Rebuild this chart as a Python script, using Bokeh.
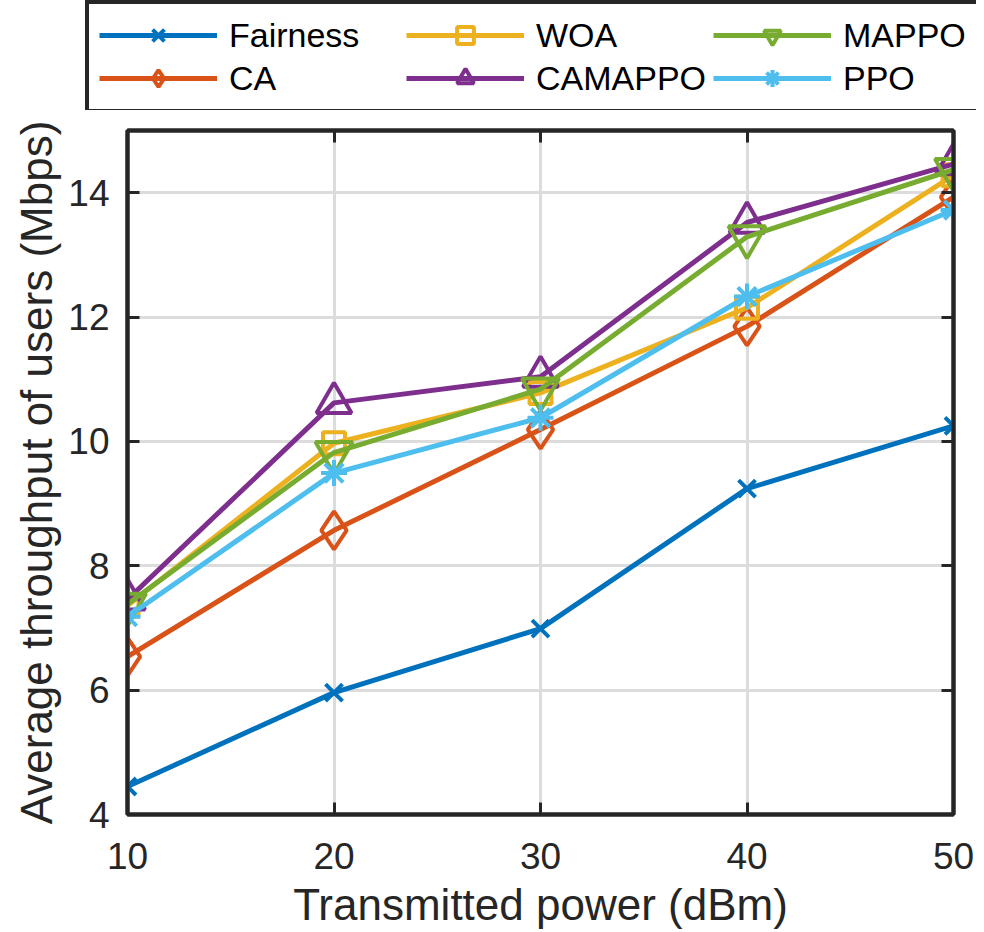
from bokeh.plotting import figure
from bokeh.models import Legend, LinearAxis, FixedTicker, Range1d
from bokeh.layouts import column
from bokeh.embed import file_html
from bokeh.resources import INLINE

power = [10, 20, 30, 40, 50]
fairness = [4.45, 5.96, 6.99, 9.24, 10.25]
ca = [6.54, 8.57, 10.19, 11.85, 13.93]
woa = [7.36, 9.97, 10.78, 12.15, 14.28]
camappo = [7.46, 10.62, 11.04, 13.52, 14.46]
mappo = [7.38, 9.82, 10.84, 13.29, 14.37]
ppo = [7.18, 9.49, 10.38, 12.33, 13.72]

x_ticks = [10, 20, 30, 40, 50]
y_ticks = [4, 6, 8, 10, 12, 14]

series = [
    ("Fairness", fairness, "#0072BD", "x", 24),
    ("CA", ca, "#D95319", "diamond", 38),
    ("WOA", woa, "#EDB120", "square", 22),
    ("CAMAPPO", camappo, "#7E2F8E", "triangle", 35),
    ("MAPPO", mappo, "#77AC30", "inverted_triangle", 37),
    ("PPO", ppo, "#4DBEEE", "asterisk", 26),
]

FONT = "Liberation Sans"
DARK = "#262626"
W = 976
LEG_H = 110

# ---------- legend strip ----------
lf = figure(width=W, height=LEG_H, output_backend="svg", toolbar_location=None,
            x_range=Range1d(0, 1), y_range=Range1d(0, 1),
            min_border=0, x_axis_type=None, y_axis_type=None)
if hasattr(lf, "frame_align"):
    lf.frame_align = False
lf.outline_line_color = None
lf.xgrid.visible = False
lf.ygrid.visible = False
lf.border_fill_color = "white"
lf.background_fill_color = "white"

# ---------- main plot ----------
p = figure(width=W, height=931 - LEG_H, output_backend="svg", toolbar_location=None,
           x_range=Range1d(10, 50), y_range=Range1d(4, 15),
           min_border_left=127, min_border_right=23, min_border_top=130 - LEG_H,
           min_border_bottom=109)
p.background_fill_color = "white"
p.border_fill_color = "white"
p.outline_line_color = DARK
p.outline_line_width = 4

p.xgrid.grid_line_color = "#dcdcdc"
p.ygrid.grid_line_color = "#dcdcdc"
p.xgrid.grid_line_width = 3
p.ygrid.grid_line_width = 3
p.xgrid.ticker = FixedTicker(ticks=x_ticks)
p.ygrid.ticker = FixedTicker(ticks=y_ticks)

for ax, ticks in ((p.xaxis[0], x_ticks), (p.yaxis[0], y_ticks)):
    ax.ticker = FixedTicker(ticks=ticks)
    ax.axis_line_color = DARK
    ax.axis_line_width = 4
    ax.major_tick_line_color = DARK
    ax.major_tick_line_width = 3
    ax.major_tick_in = 12
    ax.major_tick_out = 0
    ax.minor_tick_line_color = None
    ax.major_label_text_font = FONT
    ax.major_label_text_font_size = "37px"
    ax.major_label_text_color = DARK
    ax.axis_label_text_font = FONT
    ax.axis_label_text_font_size = "44px"
    ax.axis_label_text_font_style = "normal"
    ax.axis_label_text_color = DARK

p.xaxis.axis_label = "Transmitted power (dBm)"
p.yaxis.axis_label = "Average throughput of users (Mbps)"
p.xaxis.major_label_standoff = 28
p.yaxis.major_label_standoff = 18
p.xaxis.axis_label_standoff = 8
p.yaxis.axis_label_standoff = 4

# box ticks on top and right
for loc, ticks in (("right", y_ticks), ("above", x_ticks)):
    ax = LinearAxis(ticker=FixedTicker(ticks=ticks),
                    major_label_overrides={t: "" for t in ticks})
    ax.axis_line_color = DARK
    ax.axis_line_width = 4
    ax.major_tick_line_color = DARK
    ax.major_tick_line_width = 3
    ax.major_tick_in = 12
    ax.major_tick_out = 0
    ax.minor_tick_line_color = None
    ax.major_label_standoff = 0
    p.add_layout(ax, loc)

items = []
for name, vals, color, marker, size in series:
    p.line(power, vals, line_color=color, line_width=5)
    p.scatter(power, vals, marker=marker, size=size, line_color=color,
              line_width=4, fill_alpha=0)
    # legend proxies: same data, but outside the strip's visible range
    r1 = lf.line(power, vals, line_color=color, line_width=5)
    r2 = lf.scatter(power, vals, marker=marker, size=size, line_color=color,
                    line_width=4, fill_alpha=0)
    items.append((name, [r1, r2]))

legend = Legend(items=items, nrows=2, orientation="vertical",
                location=(85, -3))
legend.label_text_font = FONT
legend.label_text_font_size = "34px"
legend.label_text_color = "black"
legend.glyph_width = 118
legend.glyph_height = 42
legend.label_standoff = 12
legend.label_height = 38
legend.label_width = 176
legend.spacing = 1
legend.padding = 10
legend.margin = 0
legend.border_line_color = DARK
legend.border_line_width = 4
legend.border_line_alpha = 1
legend.background_fill_color = "white"
legend.background_fill_alpha = 1
lf.add_layout(legend, "center")

layout = column(lf, p, spacing=0)
open("out.html", "w").write(file_html(layout, INLINE))
